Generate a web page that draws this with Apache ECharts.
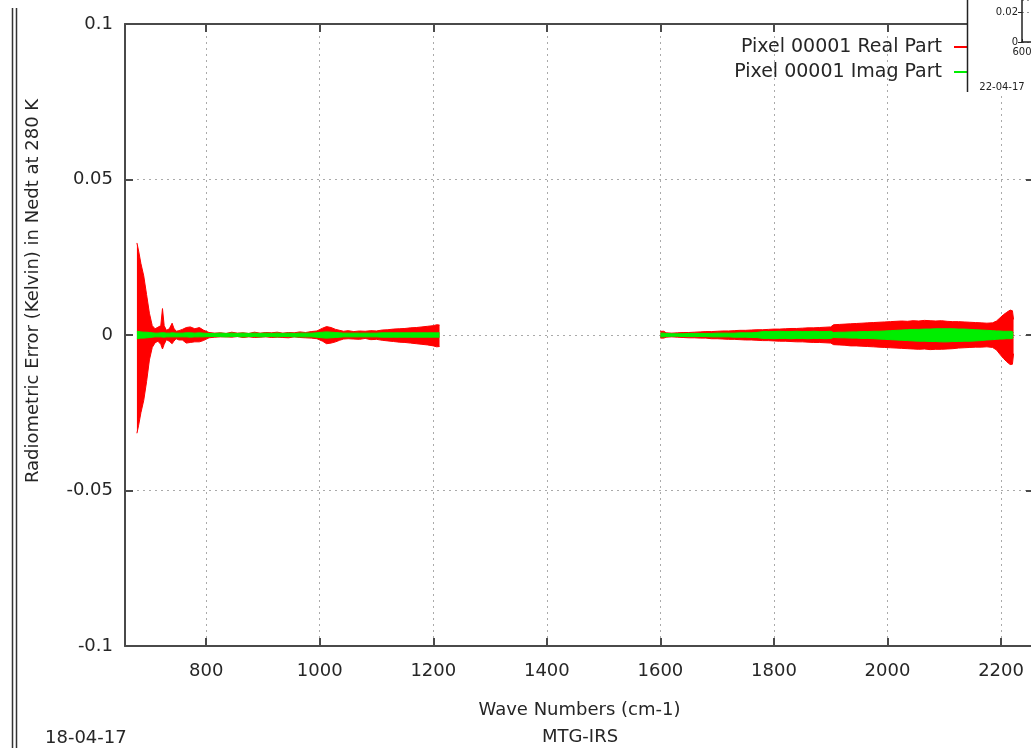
<!DOCTYPE html>
<html><head><meta charset="utf-8">
<script src="https://cdn.jsdelivr.net/npm/echarts@6/dist/echarts.min.js"></script>
<style>html,body{margin:0;padding:0;background:#fff;overflow:hidden}#c{width:1031px;height:748px}</style>
</head><body><div id="c"></div>
<script>
const xTicks = [800, 1000, 1200, 1400, 1600, 1800, 2000, 2200];

// Long-wave band
const wnLW = [678,681,685,690,695,700,705,710,715,720,723,726,730,735,740,743,747,752,758,765,772,780,788,795,805,815,825,835,845,855,865,875,885,895,905,915,925,935,945,955,965,975,985,995,1005,1012,1020,1028,1035,1042,1050,1060,1070,1080,1090,1100,1110,1120,1130,1140,1150,1160,1170,1180,1190,1200,1206,1211];
const realHiLW = [0.0296,0.027,0.023,0.019,0.013,0.007,0.003,0.002,0.0025,0.003,
  0.0085,0.003,0.0015,0.002,0.0038,0.0022,0.0012,0.0014,0.0018,0.0024,
  0.0026,0.002,0.0024,0.0016,0.0008,0.0006,0.0007,0.0005,0.0009,0.0006,
  0.0007,0.0005,0.0009,0.0006,0.0008,0.0007,0.0009,0.0006,0.0008,0.0007,
  0.001,0.0008,0.0011,0.0013,0.0022,0.0027,0.0024,0.0018,0.0015,0.0012,
  0.0014,0.0011,0.0013,0.0012,0.0014,0.0013,0.0016,0.0017,0.0019,0.002,
  0.0021,0.0023,0.0024,0.0026,0.0028,0.003,0.0033,0.0032];
const realLoLW = [-0.0316,-0.029,-0.025,-0.021,-0.015,-0.008,-0.004,-0.0025,-0.002,-0.003,
  -0.0045,-0.003,-0.0015,-0.002,-0.0028,-0.002,-0.0012,-0.0016,-0.0016,-0.0026,
  -0.0024,-0.0022,-0.0022,-0.0018,-0.0009,-0.0007,-0.0006,-0.0006,-0.0007,-0.0005,
  -0.0008,-0.0006,-0.0008,-0.0007,-0.0006,-0.0008,-0.0007,-0.0008,-0.0009,-0.0006,
  -0.0008,-0.0009,-0.001,-0.0012,-0.002,-0.0028,-0.0026,-0.0022,-0.0017,-0.0013,
  -0.0012,-0.0013,-0.0014,-0.0011,-0.0015,-0.0014,-0.0017,-0.0019,-0.0021,-0.0023,
  -0.0024,-0.0026,-0.0028,-0.003,-0.0032,-0.0035,-0.0038,-0.0037];
const imagHiLW = [0.0012,0.0011,0.001,0.0009,0.0009,0.0008,0.0007,0.0006,0.0006,0.0007,
  0.0008,0.0007,0.0006,0.0006,0.0007,0.0006,0.0006,0.0006,0.0006,0.0007,
  0.0007,0.0006,0.0007,0.0006,0.0005,0.0005,0.0006,0.0005,0.0006,0.0005,
  0.0006,0.0005,0.0006,0.0005,0.0006,0.0005,0.0006,0.0005,0.0006,0.0005,
  0.0006,0.0006,0.0006,0.0007,0.0009,0.001,0.0009,0.0008,0.0007,0.0006,
  0.0006,0.0006,0.0006,0.0006,0.0006,0.0006,0.0007,0.0007,0.0007,0.0007,
  0.0007,0.0007,0.0007,0.0007,0.0007,0.0007,0.0007,0.0007];
const imagLoLW = [-0.0012,-0.0011,-0.001,-0.001,-0.0009,-0.0008,-0.0007,-0.0006,-0.0006,-0.0006,
  -0.0007,-0.0007,-0.0006,-0.0006,-0.0006,-0.0006,-0.0006,-0.0006,-0.0006,-0.0006,
  -0.0007,-0.0006,-0.0006,-0.0006,-0.0005,-0.0005,-0.0005,-0.0006,-0.0005,-0.0005,
  -0.0006,-0.0005,-0.0005,-0.0006,-0.0005,-0.0005,-0.0006,-0.0005,-0.0005,-0.0006,
  -0.0006,-0.0006,-0.0006,-0.0007,-0.0009,-0.001,-0.0009,-0.0008,-0.0007,-0.0006,
  -0.0006,-0.0006,-0.0006,-0.0006,-0.0006,-0.0006,-0.0007,-0.0007,-0.0007,-0.0007,
  -0.0007,-0.0007,-0.0007,-0.0007,-0.0007,-0.0007,-0.0007,-0.0007];

// Mid-wave band
const wnMW = [1600,1603,1606,1610,1620,1630,1640,1650,1660,1670,1680,1690,1700,1710,1720,1730,1740,1750,1760,1770,1780,1790,1800,1810,1820,1830,1840,1850,1860,1870,1880,1890,1900,1905,1915,1925,1935,1945,1955,1965,1975,1985,1995,2005,2015,2025,2035,2045,2055,2065,2075,2085,2095,2105,2115,2125,2135,2145,2155,2165,2175,2185,2192,2198,2204,2210,2216,2220,2222];
const realHiMW = [0.0012,0.0018,0.0012,0.0007,0.0006,0.0007,0.0008,0.0008,0.0009,0.001,
  0.0011,0.0011,0.0012,0.0013,0.0013,0.0014,0.0015,0.0015,0.0016,0.0017,
  0.0017,0.0018,0.0019,0.0019,0.002,0.0021,0.0021,0.0022,0.0023,0.0023,
  0.0024,0.0025,0.0026,0.0033,0.0034,0.0035,0.0036,0.0037,0.0038,0.0039,
  0.004,0.0041,0.0042,0.0043,0.0044,0.0045,0.0044,0.0046,0.0045,0.0047,
  0.0046,0.0045,0.0046,0.0044,0.0043,0.0043,0.0042,0.0041,0.004,0.0039,
  0.0038,0.0039,0.0045,0.0055,0.0065,0.0073,0.008,0.0078,0.005];
const realLoMW = [-0.001,-0.0015,-0.001,-0.0007,-0.0006,-0.0007,-0.0008,-0.0009,-0.0009,-0.001,
  -0.001,-0.0012,-0.0012,-0.0013,-0.0014,-0.0014,-0.0015,-0.0016,-0.0016,-0.0017,
  -0.0018,-0.0018,-0.0019,-0.002,-0.002,-0.0021,-0.0022,-0.0022,-0.0023,-0.0024,
  -0.0024,-0.0025,-0.0026,-0.0031,-0.0032,-0.0033,-0.0035,-0.0035,-0.0036,-0.0037,
  -0.0038,-0.0039,-0.004,-0.0041,-0.0042,-0.0043,-0.0044,-0.0045,-0.0046,-0.0045,
  -0.0047,-0.0046,-0.0046,-0.0045,-0.0044,-0.0042,-0.0041,-0.004,-0.0039,-0.0039,
  -0.0038,-0.004,-0.0048,-0.0062,-0.0075,-0.0086,-0.0095,-0.0094,-0.006];
const imagHiMW = [0.0006,0.0008,0.0006,0.0005,0.0004,0.0004,0.0004,0.0005,0.0005,0.0005,0.0005,0.0005,0.0006,
  0.0006,0.0006,0.0006,0.0007,0.0007,0.0007,0.0008,
  0.0011,0.0011,0.0011,0.0012,0.0011,0.0011,0.0012,0.0011,0.0011,0.0012,0.0011,0.0011,0.0012,
  0.0008,0.0009,0.0009,0.001,0.001,0.0011,0.0011,0.0012,0.0012,0.0013,
  0.0014,0.0015,0.0016,0.0017,0.0018,0.0018,0.0019,0.0019,0.002,0.002,
  0.002,0.002,0.0019,0.0019,0.0018,0.0017,0.0016,0.0015,0.0014,
  0.0013,0.0013,0.0012,0.0012,0.0012,0.0011,0.0008];
const imagLoMW = [-0.0006,-0.0007,-0.0006,-0.0005,-0.0004,-0.0004,-0.0005,-0.0005,-0.0005,-0.0005,-0.0005,-0.0006,-0.0006,
  -0.0006,-0.0006,-0.0007,-0.0007,-0.0007,-0.0008,-0.0008,
  -0.0011,-0.0011,-0.0012,-0.0011,-0.0011,-0.0012,-0.0011,-0.0011,-0.0012,-0.0011,-0.0011,-0.0012,-0.0011,
  -0.0008,-0.0009,-0.0009,-0.001,-0.001,-0.0011,-0.0011,-0.0012,-0.0013,-0.0014,
  -0.0015,-0.0016,-0.0017,-0.0018,-0.0019,-0.002,-0.002,-0.0021,-0.0021,-0.0022,
  -0.0022,-0.0021,-0.0021,-0.002,-0.002,-0.0019,-0.0018,-0.0016,-0.0015,
  -0.0014,-0.0013,-0.0013,-0.0012,-0.0012,-0.0011,-0.0008];

const REAL = 'Pixel 00001 Real Part';
const IMAG = 'Pixel 00001 Imag Part';
const FONT = 'DejaVu Sans';
const AX = '#4a4a4a';
const TXT = '#262626';

function pts(xs, ys) { return xs.map((x, i) => [x, ys[i]]); }
function band(name, color, xs, ys, z) {
  return {
    type: 'line', name: name, data: pts(xs, ys), xAxisIndex: 0, yAxisIndex: 0,
    showSymbol: false, symbol: 'none', z: z, silent: true, animation: false,
    lineStyle: { color: color, width: 1 }, itemStyle: { color: color },
    areaStyle: { color: color, opacity: 1 }
  };
}
const plain = v => String(v);

const chart = echarts.init(document.getElementById('c'), null, { renderer: 'canvas' });
chart.setOption({
  animation: false,
  backgroundColor: '#fff',
  textStyle: { fontFamily: FONT },
  grid: [
    { left: 125, right: -3, top: 24, bottom: 102, outerBoundsMode: 'none', containLabel: false },
    { left: 1022, top: 0, width: 300, height: 42, outerBoundsMode: 'none', containLabel: false }
  ],
  legend: {
    data: [REAL, IMAG], orient: 'vertical', right: 45, top: 37, padding: 0,
    align: 'right', icon: 'rect', itemWidth: 32, itemHeight: 2, itemGap: 5,
    textStyle: { fontFamily: FONT, fontSize: 19, color: TXT, lineHeight: 20, padding: [0, 7, 0, 0] },
    selectedMode: false
  },
  xAxis: [
    {
      type: 'value', gridIndex: 0, position: 'bottom', min: 657, max: 2258,
      name: 'Wave Numbers (cm-1)', nameLocation: 'middle', nameGap: 55,
      nameTextStyle: { fontFamily: FONT, fontSize: 18, color: TXT },
      axisLine: { show: true, onZero: false, lineStyle: { color: AX, width: 2 } },
      axisTick: { show: true, inside: true, length: 8, customValues: xTicks, lineStyle: { color: AX, width: 2 } },
      axisLabel: { customValues: xTicks, formatter: plain, fontFamily: FONT, fontSize: 18, color: TXT, margin: 16 },
      splitLine: { show: true, lineStyle: { color: '#aaa', width: 1, type: [2, 4] } }
    },
    {
      type: 'value', gridIndex: 0, position: 'top', min: 657, max: 2258,
      axisLine: { show: true, onZero: false, lineStyle: { color: AX, width: 2 } },
      axisTick: { show: true, inside: true, length: 8, customValues: xTicks, lineStyle: { color: AX, width: 2 } },
      axisLabel: { show: false, customValues: xTicks },
      splitLine: { show: false }
    },
    {
      type: 'value', gridIndex: 1, min: 600, max: 1200, interval: 200, z: 60,
      axisLine: { show: true, onZero: false, lineStyle: { color: '#222', width: 1.5 } },
      axisTick: { show: true, inside: true, length: 3, lineStyle: { color: '#222' } },
      axisLabel: { formatter: plain, fontFamily: FONT, fontSize: 10, color: '#222', margin: 5, showMaxLabel: false },
      splitLine: { show: false }
    }
  ],
  yAxis: [
    {
      type: 'value', gridIndex: 0, position: 'left', min: -0.1, max: 0.1, interval: 0.05,
      axisLine: { show: true, onZero: false, lineStyle: { color: AX, width: 2 } },
      axisTick: { show: true, inside: true, length: 8, lineStyle: { color: AX, width: 2 } },
      axisLabel: { fontFamily: FONT, fontSize: 18, color: TXT, margin: 12 },
      splitLine: { show: true, lineStyle: { color: '#aaa', width: 1, type: [2, 4] } }
    },
    {
      type: 'value', gridIndex: 0, position: 'right', min: -0.1, max: 0.1, interval: 0.05,
      axisLine: { show: true, onZero: false, lineStyle: { color: AX, width: 2 } },
      axisTick: { show: true, inside: true, length: 8, lineStyle: { color: AX, width: 2 } },
      axisLabel: { show: false },
      splitLine: { show: false }
    },
    {
      type: 'value', gridIndex: 1, min: 0, max: 0.028, interval: 0.02, z: 60,
      axisLine: { show: true, onZero: false, lineStyle: { color: '#222', width: 1.5 } },
      axisTick: { show: true, inside: false, length: 4, lineStyle: { color: '#222' } },
      axisLabel: { fontFamily: FONT, fontSize: 10, color: '#222', margin: 4, showMaxLabel: false },
      splitLine: { show: true, lineStyle: { color: '#999', type: [2, 3] } }
    }
  ],
  series: [
    band(REAL, '#ff0000', wnLW, realHiLW, 2),
    band(REAL, '#ff0000', wnLW, realLoLW, 2),
    band(REAL, '#ff0000', wnMW, realHiMW, 2),
    band(REAL, '#ff0000', wnMW, realLoMW, 2),
    band(IMAG, '#00ee00', wnLW, imagHiLW, 3),
    band(IMAG, '#00ee00', wnLW, imagLoLW, 3),
    band(IMAG, '#00ee00', wnMW, imagHiMW, 3),
    band(IMAG, '#00ee00', wnMW, imagLoMW, 3)
  ],
  graphic: [
    { type: 'rect', z: 50, silent: true, shape: { x: 967, y: -2, width: 70, height: 94 }, style: { fill: '#fff', stroke: null } },
    { type: 'line', z: 51, silent: true, shape: { x1: 967.5, y1: 0, x2: 967.5, y2: 92 }, style: { stroke: '#222', lineWidth: 1.5 } },
    { type: 'text', z: 61, silent: true, x: 1002, y: 87, style: { text: '22-04-17', font: '10px "DejaVu Sans"', fill: '#222', textAlign: 'center', textVerticalAlign: 'middle' } },
    { type: 'text', z: 10, silent: true, x: 33, y: 291, rotation: Math.PI / 2, style: { text: 'Radiometric Error (Kelvin) in Nedt at 280 K', font: '18px "DejaVu Sans"', fill: TXT, textAlign: 'center', textVerticalAlign: 'middle' } },
    { type: 'text', z: 10, silent: true, x: 45, y: 738, style: { text: '18-04-17', font: '18px "DejaVu Sans"', fill: TXT, textAlign: 'left', textVerticalAlign: 'middle' } },
    { type: 'text', z: 10, silent: true, x: 580, y: 737, style: { text: 'MTG-IRS', font: '18px "DejaVu Sans"', fill: TXT, textAlign: 'center', textVerticalAlign: 'middle' } },
    { type: 'line', z: 10, silent: true, shape: { x1: 12.5, y1: 8, x2: 12.5, y2: 748 }, style: { stroke: '#333', lineWidth: 1.5 } },
    { type: 'line', z: 10, silent: true, shape: { x1: 16.5, y1: 8, x2: 16.5, y2: 748 }, style: { stroke: '#333', lineWidth: 1.5 } }
  ]
});
</script></body></html>
